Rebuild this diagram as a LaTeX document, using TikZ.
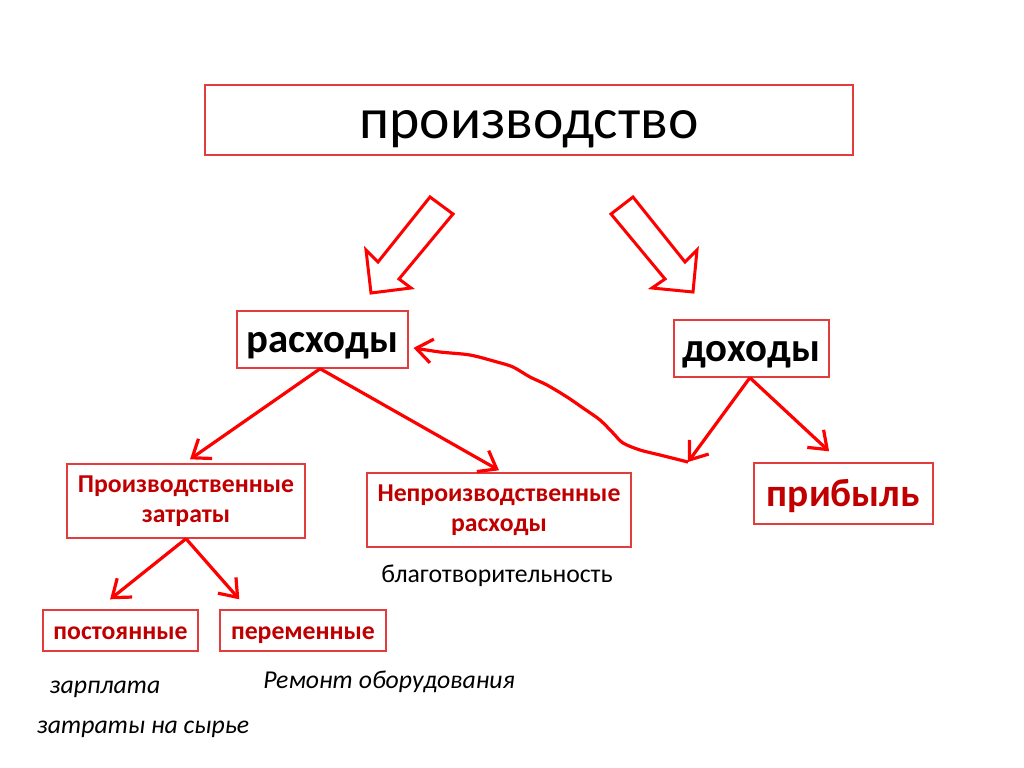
\documentclass[tikz,border=0pt]{standalone}
\usepackage{fontspec}
\setmainfont{Carlito}
\usetikzlibrary{arrows.meta}
\definecolor{boxred}{RGB}{226,60,60}
\definecolor{txtred}{RGB}{192,0,0}
\definecolor{arrred}{RGB}{255,0,0}
\tikzset{
  box/.style={draw=boxred, line width=0.35mm, inner sep=0pt, align=center},
  bigtxt/.style={font=\fontsize{29}{32}\selectfont\bfseries},
  redtxt/.style={text=txtred, font=\fontsize{18.3}{21}\selectfont\bfseries},
  base/.style={text height=#1, text depth=0pt}, % baseline sits #1/2 below centre
  conn/.style={draw=arrred, line width=0.8mm, -{Straight Barb[length=4mm,width=6mm,line width=0.8mm]}},
  blockarr/.style={draw=arrred, line width=0.75mm, fill=white, line join=miter},
  note/.style={font=\fontsize{18.3}{22}\selectfont},
  inote/.style={font=\fontsize{18.3}{22}\selectfont\itshape}
}
\begin{document}
\begin{tikzpicture}[x=0.25mm, y=-0.25mm]
    % canvas in reference pixels (1024 x 767)
    \useasboundingbox (0,0) rectangle (1024,767);
    % top box
    \node[box, base=9.5mm, minimum width=162mm, minimum height=17.5mm, font=\fontsize{41}{44}\selectfont] (prod) at (529,120) {производство};
    % second row
    \node[box, bigtxt, base=6.25mm, minimum width=42.75mm, minimum height=14.25mm] (rash) at (322.5,339.5) {расходы};
    \node[box, bigtxt, base=6.25mm, minimum width=38.75mm, minimum height=14.25mm] (dohod) at (751.5,348.5) {доходы};
    % third row
    \node[box, redtxt, minimum width=59.5mm, minimum height=18.5mm] (pzatr) at (186,501) {Производственные\\затраты};
    \node[box, redtxt, minimum width=66mm, minimum height=18.5mm] (npzatr) at (499,510) {Непроизводственные\\расходы};
    \node[box, base=6.5mm, text=txtred, font=\fontsize{28}{32}\selectfont\bfseries, minimum width=44.75mm, minimum height=15.25mm] (prib) at (843.5,493.5) {прибыль};
    % fourth row
    \node[box, redtxt, base=4.25mm, minimum width=38.75mm, minimum height=10.25mm] (post) at (120.5,630.5) {постоянные};
    \node[box, redtxt, base=4.25mm, minimum width=41.5mm, minimum height=10.25mm] (perem) at (303,630.5) {переменные};
    % plain notes
    \node[note] (blago) at (497,576) {благотворительность};
    \node[inote] (zarp) at (105,689) {зарплата};
    \node[inote] (syr) at (143,729) {затраты на сырье};
    \node[inote] (rem) at (389,682) {Ремонт оборудования};
    % hollow block arrows under the top box
    \draw[blockarr] (430,197) -- (453,214) -- (399,279) -- (411,288) -- (371,293)
        -- (366,250) -- (378,262) -- cycle;
    \draw[blockarr] (633,197) -- (611,214) -- (665,279) -- (652,288) -- (693,292)
        -- (697,250) -- (685,262) -- cycle;
    % thin arrows
    \draw[conn] ([xshift=-0.6mm]rash.south) -- ([xshift=1mm,yshift=1mm]pzatr.north);
    \draw[conn] ([xshift=-0.6mm]rash.south) -- ([yshift=0.5mm]npzatr.north);
    \draw[conn] (pzatr.south) -- ([xshift=-2.6mm,yshift=2.5mm]post.north);
    \draw[conn] (pzatr.south) -- ([xshift=5mm,yshift=2.5mm]perem.north west);
    \coordinate (wv) at (688,462);
    \draw[conn] ([xshift=-0.4mm]dohod.south) -- (wv);
    \draw[conn] ([xshift=-0.4mm]dohod.south) -- ([xshift=-3.6mm,yshift=2.75mm]prib.north);
    % hand-drawn link back to the costs box
    \draw[conn, line join=round] plot[smooth, tension=0.5] coordinates {(wv) (660,455) (640,450)
        (623,443) (613,433) (600,420) (583,408) (567,397) (547,385) (530,377) (513,367)
        (497,362) (470,355) (440,352) ([xshift=1.2mm,yshift=-2.1mm]rash.east)};
\end{tikzpicture}
\end{document}
